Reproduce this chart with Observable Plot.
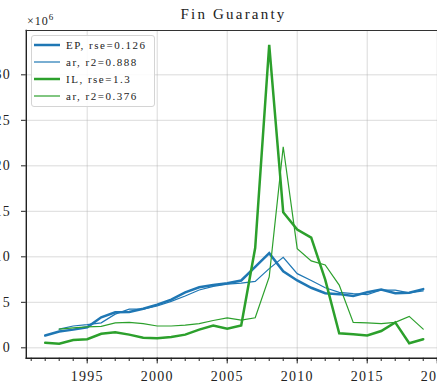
<!DOCTYPE html>
<html><head><meta charset="utf-8">
<script src="https://cdn.jsdelivr.net/npm/d3@7"></script>
<script src="https://cdn.jsdelivr.net/npm/@observablehq/plot@0.6"></script>
<style>
html,body{margin:0;padding:0;background:#fff;}
#wrap{position:relative;width:437px;height:382px;overflow:hidden;}
#wrap svg{overflow:hidden;}
.txt{position:absolute;font-family:"Liberation Serif",serif;color:#222;white-space:pre;}
#title{left:0;width:467px;top:7px;font-size:15px;line-height:15px;letter-spacing:2.2px;text-align:center;}
#expo{left:27px;top:11px;font-size:12px;line-height:12px;letter-spacing:1px;}
#expo sup{font-size:9px;vertical-align:5px;}
#legend{position:absolute;left:31px;top:35px;width:124px;height:72px;box-sizing:border-box;border:1px solid #d4d4d4;border-radius:3px;background:rgba(255,255,255,0.85);}
#legend .row{position:absolute;left:0;height:14px;font-family:"Liberation Serif",serif;font-size:11px;line-height:14px;letter-spacing:1.5px;color:#222;white-space:pre;}
#legend svg{position:absolute;left:1px;top:0;}
#legend span{position:absolute;left:34px;top:0;}
</style></head><body>
<div id="wrap"></div>
<script>
// ---- data (values in units of 1e6) ----
const years   = [1992,1993,1994,1995,1996,1997,1998,1999,2000,2001,2002,2003,2004,2005,2006,2007,2008,2009,2010,2011,2012,2013,2014,2015,2016,2017,2018,2019];
const arYears = [1993,1994,1995,1996,1997,1998,1999,2000,2001,2002,2003,2004,2005,2006,2007,2008,2009,2010,2011,2012,2013,2014,2015,2016,2017,2018,2019];
const epValues   = [1.35,1.8,2.0,2.25,3.35,3.9,3.95,4.3,4.75,5.3,6.1,6.65,6.9,7.1,7.4,8.9,10.4,8.4,7.4,6.6,6.0,5.9,5.7,6.1,6.4,6.0,6.05,6.45];
const epArValues = [2.05,2.4,2.55,2.75,3.7,4.25,4.25,4.6,5.1,5.7,6.35,6.75,7.0,7.1,7.3,8.7,9.95,8.15,7.4,6.6,6.1,5.95,5.85,6.35,6.35,6.05,6.25];
const ilValues   = [0.55,0.45,0.85,0.95,1.55,1.7,1.45,1.1,1.05,1.2,1.45,2.0,2.45,2.1,2.45,11.0,33.3,14.9,13.0,12.1,7.5,1.6,1.5,1.35,1.85,2.8,0.5,0.95];
const ilArValues = [2.05,2.2,2.3,2.35,2.75,2.8,2.65,2.4,2.4,2.5,2.65,3.0,3.3,3.05,3.3,7.8,22.1,10.9,9.55,9.1,6.9,2.8,2.75,2.65,2.8,3.45,2.05];
const seriesNames = ["EP, rse=0.126","ar, r2=0.888","IL, rse=1.3","ar, r2=0.376"];
const seriesColors = ["#1f77b4","#1f77b4","#2ca02c","#2ca02c"];
const seriesWidths = [2.5,1.2,2.5,1.2];
const xMajorTicks = [1995,2000,2005,2010,2015,2020];
const xMinorTicks = d3.range(1991,2021);
const yTicks = [0,5,10,15,20,25,30];
const title = "Fin Guaranty";

const seriesData = [
  years.map((x,i)=>({x, y: epValues[i]})),
  arYears.map((x,i)=>({x, y: epArValues[i]})),
  years.map((x,i)=>({x, y: ilValues[i]})),
  arYears.map((x,i)=>({x, y: ilArValues[i]}))
];

const chart = Plot.plot({
  width: 437, height: 382,
  marginLeft: 25.8, marginRight: 0, marginTop: 30, marginBottom: 24.3,
  style: {fontFamily: '"Liberation Serif", serif', fontSize: "14px", letterSpacing: "1.2px", background: "transparent", color: "#222"},
  x: {domain: [1990.65, 2020.02], label: null},
  y: {domain: [-1.14, 34.87], label: null},
  marks: [
    Plot.gridX(xMajorTicks, {stroke: "#b0b0b0", strokeOpacity: 0.45, strokeWidth: 1}),
    Plot.gridY(yTicks, {stroke: "#b0b0b0", strokeOpacity: 0.45, strokeWidth: 1}),
    Plot.axisX(xMinorTicks, {tickSize: 3.3, text: null, stroke: "#222", strokeWidth: 1, label: null}),
    Plot.axisX(xMajorTicks, {tickSize: 5.7, tickPadding: 7.3, tickFormat: d => String(d), stroke: "#222", fill: "#222", strokeWidth: 1, label: null}),
    Plot.axisY(yTicks, {tickSize: 4.8, tickPadding: 10.5, tickFormat: d => String(d), stroke: "#222", fill: "#222", strokeWidth: 1, label: null}),
    ...seriesData.map((d,i) => Plot.line(d, {x: "x", y: "y", stroke: seriesColors[i], strokeWidth: seriesWidths[i], strokeLinejoin: "miter", strokeMiterlimit: 4})),
    Plot.frame({anchor: "left", stroke: "#222", strokeWidth: 1.4}),
    Plot.frame({anchor: "bottom", stroke: "#222", strokeWidth: 1.4}),
    Plot.frame({anchor: "top", stroke: "#333", strokeWidth: 1.2})
  ]
});

const wrap = document.getElementById("wrap");
wrap.appendChild(chart);

const t = document.createElement("div");
t.className = "txt"; t.id = "title"; t.textContent = title;
wrap.appendChild(t);

const e = document.createElement("div");
e.className = "txt"; e.id = "expo"; e.innerHTML = "×10<sup>6</sup>";
wrap.appendChild(e);

const lg = document.createElement("div");
lg.id = "legend";
seriesNames.forEach((name,i) => {
  const row = document.createElement("div");
  row.className = "row";
  row.style.top = (2 + i*17.1) + "px";
  row.style.width = "122px";
  row.innerHTML = `<svg width="28" height="14"><line x1="1" x2="27" y1="7" y2="7" stroke="${seriesColors[i]}" stroke-width="${seriesWidths[i]}"/></svg><span></span>`;
  row.querySelector("span").textContent = name;
  lg.appendChild(row);
});
wrap.appendChild(lg);
</script>
</body></html>
